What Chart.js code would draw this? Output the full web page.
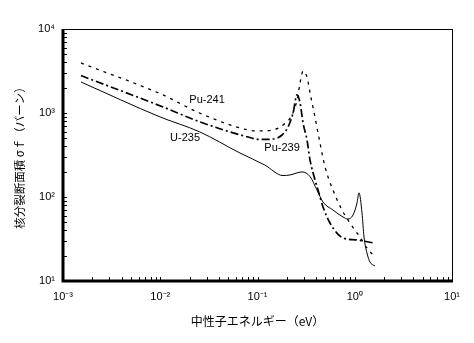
<!DOCTYPE html>
<html>
<head>
<meta charset="utf-8">
<script src="https://cdn.jsdelivr.net/npm/chart.js@4.4.0/dist/chart.umd.min.js"></script>
<style>
  html, body { margin: 0; padding: 0; background: #fff; }
  #wrap { width: 474px; height: 343px; }
</style>
</head>
<body>
<div id="wrap"><canvas id="xsChart" width="474" height="343"></canvas></div>
<script>
// energy (eV) and fission cross section (barn)
const u235E = [0.00153, 0.01, 0.0253, 0.066, 0.119, 0.183, 0.216, 0.287, 0.347, 0.409, 0.472, 0.597, 0.757, 0.853, 0.96, 1.055, 1.106, 1.188, 1.245, 1.336, 1.435, 1.615];
const u235S = [2340, 896, 598, 334, 240, 180, 183, 199, 175, 121, 87, 70, 57.8, 54.7, 61, 85, 112, 64.5, 33.4, 21.5, 16.8, 15.1];

const pu241E = [0.00153, 0.01067, 0.0253, 0.0798, 0.106, 0.144, 0.183, 0.226, 0.255, 0.274, 0.294, 0.323, 0.347, 0.39, 0.439, 0.495, 0.597, 0.739, 0.893, 1.13, 1.336, 1.615];
const pu241S = [3940, 1640, 1000, 628, 611, 628, 720, 946, 1430, 2280, 3160, 2680, 1730, 896, 439, 228, 121, 70, 49, 33.4, 24.7, 19.3];

const pu239E = [0.00153, 0.01067, 0.0253, 0.0798, 0.106, 0.144, 0.179, 0.206, 0.232, 0.255, 0.274, 0.294, 0.323, 0.347, 0.39, 0.419, 0.472, 0.556, 0.656, 0.757, 1.055, 1.578];
const pu239S = [2790, 1180, 787, 518, 484, 490, 547, 681, 1000, 1640, 1315, 760, 477, 275, 160, 121, 76, 49, 37.2, 32.5, 30.8, 28.3];

// curve labels: text and where they sit (eV, barn)
const labelText = ["Pu-241", "U-235", "Pu-239"];
const labelE = [0.0303, 0.018, 0.179];
const labelS = [1430, 504, 383];

const xMin = 1e-3, xMax = 10;
const yMin = 10, yMax = 1e4;

const sup = { "-": "\u207B", "0": "\u2070", "1": "\u00B9", "2": "\u00B2", "3": "\u00B3", "4": "\u2074" };
function powLabel(v) {
  const e = Math.log10(v);
  if (Math.abs(e - Math.round(e)) > 1e-6) return "";
  return "10" + String(Math.round(e)).split("").map(c => sup[c]).join("");
}

function pts(xs, ys) {
  return xs.map((x, i) => ({ x: x, y: ys[i] }));
}

// frame, inward tick marks and curve labels
const framePlugin = {
  id: "frame",
  afterDraw(chart) {
    const ctx = chart.ctx;
    const a = chart.chartArea;
    const xs = chart.scales.x, ys = chart.scales.y;
    ctx.save();
    ctx.strokeStyle = "#000";
    ctx.lineWidth = 1;
    ctx.strokeRect(a.left + 0.5, a.top + 0.5, a.right - a.left, a.bottom - a.top);

    // minor + major ticks
    ctx.beginPath();
    for (let k = -3; k < 1; k++) {
      for (let m = 1; m < 10; m++) {
        const px = Math.round(xs.getPixelForValue(m * Math.pow(10, k))) + 0.5;
        ctx.moveTo(px, a.bottom);
        ctx.lineTo(px, a.bottom - 4);
      }
    }
    for (let k = 1; k < 4; k++) {
      for (let m = 1; m < 10; m++) {
        const py = Math.round(ys.getPixelForValue(m * Math.pow(10, k))) + 0.5;
        ctx.moveTo(a.left, py);
        ctx.lineTo(a.left + 4, py);
      }
    }
    ctx.stroke();

    ctx.lineWidth = 3;
    ctx.beginPath();
    ctx.moveTo(a.left, a.top);
    ctx.lineTo(a.left, a.bottom);
    ctx.lineTo(a.right + 1, a.bottom);
    ctx.stroke();

    ctx.fillStyle = "#000";
    ctx.font = "11px 'Liberation Sans', sans-serif";
    ctx.textAlign = "center";
    ctx.textBaseline = "middle";
    labelText.forEach((t, i) => {
      ctx.fillText(t, xs.getPixelForValue(labelE[i]), ys.getPixelForValue(labelS[i]));
    });
    ctx.restore();
  }
};

const ctx = document.getElementById("xsChart").getContext("2d");

new Chart(ctx, {
  type: "scatter",
  data: {
    datasets: [
      {
        label: "Pu-241",
        data: pts(pu241E, pu241S),
        showLine: true,
        borderColor: "#000",
        borderWidth: 1.3,
        borderDash: [3, 5],
        pointRadius: 0,
        cubicInterpolationMode: "monotone"
      },
      {
        label: "Pu-239",
        data: pts(pu239E, pu239S),
        showLine: true,
        borderColor: "#000",
        borderWidth: 1.7,
        borderDash: [8, 3, 2, 3],
        pointRadius: 0,
        cubicInterpolationMode: "monotone"
      },
      {
        label: "U-235",
        data: pts(u235E, u235S),
        showLine: true,
        borderColor: "#000",
        borderWidth: 1,
        pointRadius: 0,
        cubicInterpolationMode: "monotone"
      }
    ]
  },
  options: {
    responsive: false,
    animation: false,
    layout: { padding: { top: 29, right: 22, left: 0, bottom: 0 } },
    plugins: {
      legend: { display: false },
      tooltip: { enabled: false }
    },
    scales: {
      x: {
        type: "logarithmic",
        min: xMin,
        max: xMax,
        afterFit: s => { s.height = 62; },
        grid: { display: false, drawTicks: false },
        border: { display: false },
        ticks: {
          autoSkip: false,
          maxRotation: 0,
          padding: 9,
          color: "#000",
          font: { family: "'Liberation Sans', sans-serif", size: 11 },
          callback: v => powLabel(v)
        },
        title: {
          display: true,
          text: "中性子エネルギー（eV）",
          color: "#000",
          font: { family: "'Noto Sans CJK JP', sans-serif", size: 12 },
          padding: { top: 14, bottom: 14 }
        }
      },
      y: {
        type: "logarithmic",
        min: yMin,
        max: yMax,
        afterFit: s => { s.width = 63; },
        grid: { display: false, drawTicks: false },
        border: { display: false },
        ticks: {
          autoSkip: false,
          padding: 8,
          color: "#000",
          font: { family: "'Liberation Sans', sans-serif", size: 11 },
          callback: v => powLabel(v)
        },
        title: {
          display: true,
          text: "核分裂断面積 σｆ（バーン）",
          color: "#000",
          font: { family: "'Noto Sans CJK JP', sans-serif", size: 11.5 },
          padding: { top: 13, bottom: 13 }
        }
      }
    }
  },
  plugins: [framePlugin]
});
</script>
</body>
</html>
